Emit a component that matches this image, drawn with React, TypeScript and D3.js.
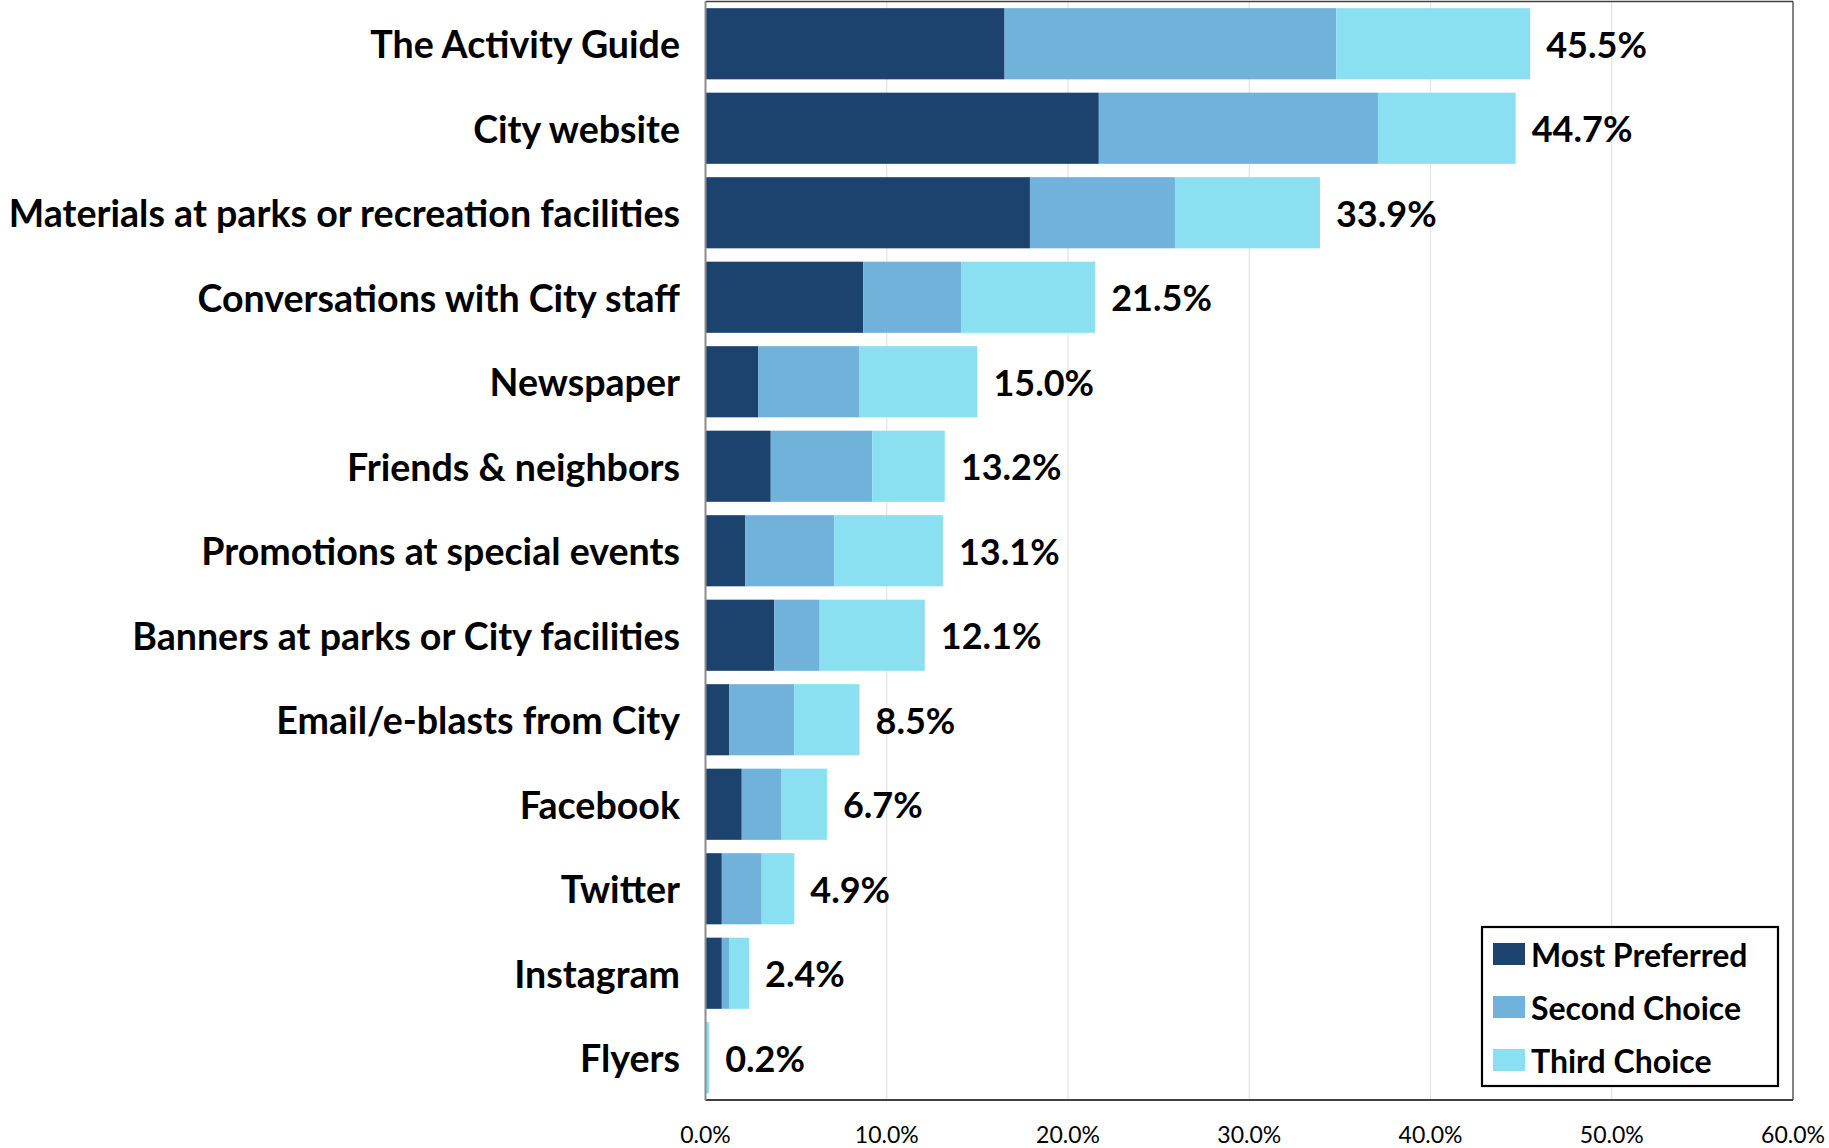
import React from "react";
import * as d3 from "d3";

const categories = [
  "The Activity Guide",
  "City website",
  "Materials at parks or recreation facilities",
  "Conversations with City staff",
  "Newspaper",
  "Friends & neighbors",
  "Promotions at special events",
  "Banners at parks or City facilities",
  "Email/e-blasts from City",
  "Facebook",
  "Twitter",
  "Instagram",
  "Flyers",
];
const mostPreferred = [16.5, 21.7, 17.9, 8.7, 2.9, 3.6, 2.2, 3.8, 1.3, 2.0, 0.9, 0.9, 0];
const secondChoice = [18.3, 15.4, 8.0, 5.4, 5.6, 5.6, 4.9, 2.5, 3.6, 2.2, 2.2, 0.4, 0];
const thirdChoice = [10.7, 7.6, 8.0, 7.4, 6.5, 4.0, 6.0, 5.8, 3.6, 2.5, 1.8, 1.1, 0.2];
const totalLabels = ["45.5%", "44.7%", "33.9%", "21.5%", "15.0%", "13.2%", "13.1%", "12.1%", "8.5%", "6.7%", "4.9%", "2.4%", "0.2%"];
const seriesNames = ["Most Preferred", "Second Choice", "Third Choice"];
const seriesColors = ["#1B436D", "#71B2DB", "#8AE0F0"];
const xTicks = [0, 10, 20, 30, 40, 50, 60];
const xTickLabels = ["0.0%", "10.0%", "20.0%", "30.0%", "40.0%", "50.0%", "60.0%"];

const W = 1829;
const H = 1148;
const FONT = "Lato, 'Open Sans', sans-serif";

export default function App() {
  const left = 705.5;
  const right = 1793;
  const top = 1.5;
  const bottom = 1100;
  const x = d3.scaleLinear().domain([0, 60]).range([left, right]);
  const y = d3
    .scaleBand<string>()
    .domain(categories)
    .range([top, bottom])
    .paddingInner(0.158)
    .paddingOuter(0.079);

  const rows = categories.map((c, i) => ({
    cat: c,
    vals: [mostPreferred[i], secondChoice[i], thirdChoice[i]],
    label: totalLabels[i],
  }));
  const stack = d3.stack<any>().keys(["0", "1", "2"]).value((d, k) => d.vals[+k]);
  const stacked = stack(rows);

  return (
    <svg
      width={W}
      height={H}
      style={{ position: "absolute", left: 0, top: 0, display: "block", background: "#fff" }}
      fontFamily={FONT}
    >
      <rect x={0} y={0} width={W} height={H} fill="#fff" />
      {/* gridlines */}
      {xTicks.slice(1, -1).map((t) => (
        <line key={t} x1={x(t)} x2={x(t)} y1={top} y2={bottom} stroke="#E3E3E3" strokeWidth={1.2} />
      ))}
      {/* bars */}
      {stacked.map((s, si) => (
        <g key={si} fill={seriesColors[si]}>
          {s.map((d, i) => (
            <rect
              key={i}
              x={x(d[0])}
              y={y(categories[i])}
              width={Math.max(0, x(d[1]) - x(d[0]))}
              height={y.bandwidth()}
            />
          ))}
        </g>
      ))}
      {/* frame */}
      <line x1={left} x2={right} y1={top} y2={top} stroke="#404040" strokeWidth={1.3} />
      <line x1={right} x2={right} y1={top} y2={bottom} stroke="#404040" strokeWidth={1.3} />
      <line x1={left} x2={right} y1={bottom} y2={bottom} stroke="#404040" strokeWidth={2} />
      <line x1={left} x2={left} y1={top} y2={bottom} stroke="#8C8C8C" strokeWidth={2} />
      {/* category labels */}
      {categories.map((c) => (
        <text
          key={c}
          x={680}
          y={(y(c) as number) + y.bandwidth() / 2}
          textAnchor="end"
          dominantBaseline="central"
          fontWeight={700}
          fontSize={37.6}
          fill="#000"
        >
          {c}
        </text>
      ))}
      {/* value labels */}
      {rows.map((r, i) => (
        <text
          key={r.cat}
          x={x(stacked[2][i][1]) + 16}
          y={(y(r.cat) as number) + y.bandwidth() / 2}
          dominantBaseline="central"
          fontWeight={700}
          fontSize={36}
          fill="#000"
        >
          {r.label}
        </text>
      ))}
      {/* x tick labels */}
      {xTicks.map((t, i) => (
        <text key={t} x={x(t)} y={1134} textAnchor="middle" dominantBaseline="central" fontSize={23} fill="#000">
          {xTickLabels[i]}
        </text>
      ))}
      {/* legend */}
      <g>
        <rect x={1482} y={927} width={296} height={159} fill="#fff" stroke="#000" strokeWidth={2.2} />
        {seriesNames.map((n, i) => (
          <g key={n}>
            <rect x={1493} y={943 + i * 53} width={32} height={22} fill={seriesColors[i]} />
            <text x={1531} y={954 + i * 53} dominantBaseline="central" fontWeight={700} fontSize={32} fill="#000">
              {n}
            </text>
          </g>
        ))}
      </g>
    </svg>
  );
}
